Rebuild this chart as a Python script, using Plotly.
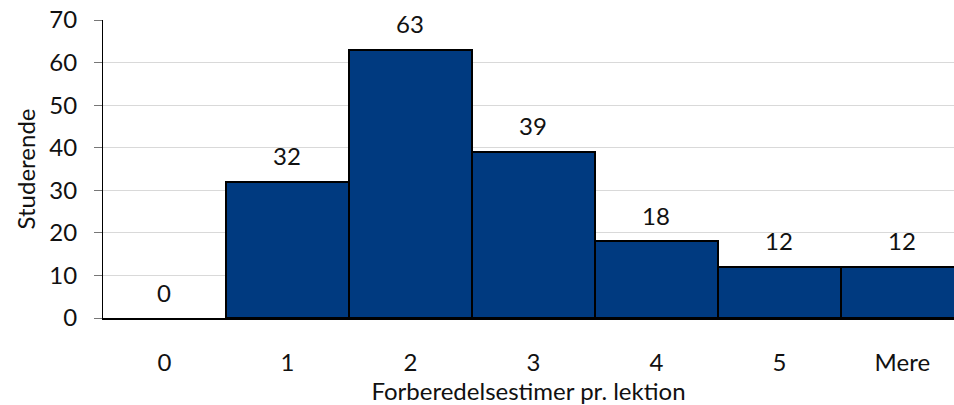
import plotly.graph_objects as go

categories = ["0", "1", "2", "3", "4", "5", "Mere"]
values = [0, 32, 63, 39, 18, 12, 12]
y_ticks = [0, 10, 20, 30, 40, 50, 60, 70]

FONT = "Lato"
FS = 24
fig = go.Figure()
fig.add_trace(go.Bar(
    x=list(range(len(categories))), y=values,
    marker=dict(color="#003A80",
                line=dict(color="black", width=[0 if v == 0 else 2 for v in values])),
    width=1.0,
))
for i, v in enumerate(values):
    fig.add_annotation(x=i, y=v, text=str(v), showarrow=False,
                       yanchor="middle", yshift=26,
                       font=dict(family=FONT, size=FS, color="#111"))

fig.update_layout(
    width=954, height=405,
    margin=dict(l=103, r=0, t=20, b=87),
    paper_bgcolor="white", plot_bgcolor="white",
    bargap=0, showlegend=False,
    font=dict(family=FONT, size=FS, color="#111"),
)
fig.update_xaxes(
    tickmode="array", tickvals=list(range(len(categories))), ticktext=categories,
    range=[-0.5, 6.42], showgrid=False, ticks="", ticklabelstandoff=22,
    showline=True, linecolor="black", linewidth=1.5, automargin=False,
    title=dict(text="Forberedelsestimer pr. lektion", standoff=4,
               font=dict(family=FONT, size=FS)),
    tickfont=dict(family=FONT, size=FS),
)
fig.update_yaxes(
    range=[0, 70], tickmode="array", tickvals=y_ticks,
    showgrid=True, gridcolor="#d9d9d9", gridwidth=1,
    ticks="outside", ticklen=8, tickcolor="#777", ticklabelstandoff=12,
    showline=True, linecolor="black", linewidth=1.2, zeroline=False, automargin=False,
    title=dict(text="Studerende", standoff=6, font=dict(family=FONT, size=FS)),
    tickfont=dict(family=FONT, size=FS),
)
fig.write_html("out.html", config={"displayModeBar": False},
               post_script="document.body.style.margin='0';document.body.style.overflow='hidden';")
